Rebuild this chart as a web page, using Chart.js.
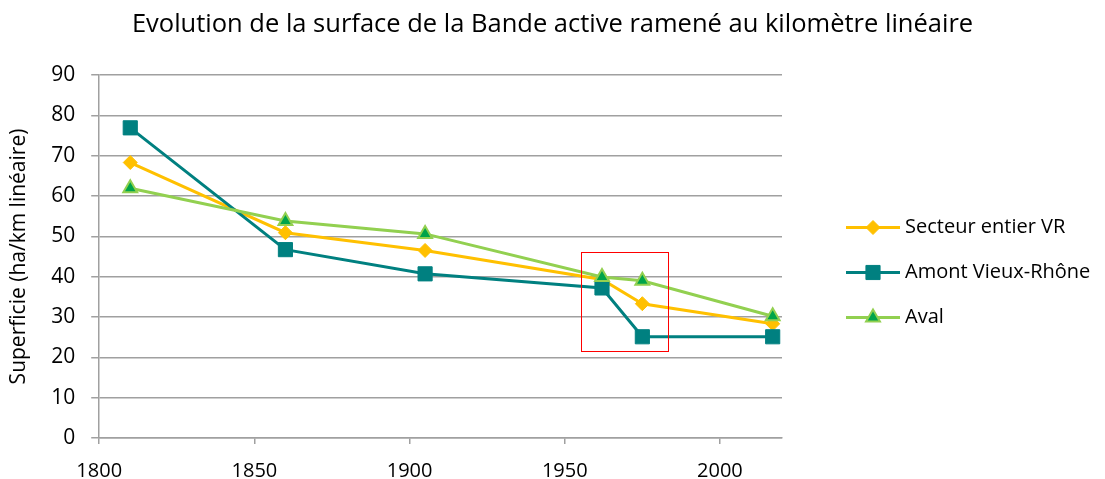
<!DOCTYPE html>
<html>
<head>
<meta charset="utf-8">
<script src="https://cdn.jsdelivr.net/npm/chart.js@4/dist/chart.umd.min.js"></script>
<style>
  body { margin: 0; background: #fff; }
  #wrap { width: 1105px; height: 479px; }
</style>
</head>
<body>
<div id="wrap"><canvas id="surfChart" width="1105" height="479"></canvas></div>
<script>
// Years of each survey
const years = [1810, 1860, 1905, 1962, 1975, 2017];

// Active band surface per linear km (ha/km)
const secteurEntier = [68.3, 50.9, 46.5, 39.3, 33.3, 28.3];
const amontVieuxRhone = [76.9, 46.7, 40.7, 37.2, 25.1, 25.1];
const aval = [61.9, 53.8, 50.6, 39.9, 39.0, 30.2];

const seriesNames = ['Secteur entier VR', 'Amont Vieux-Rhône', 'Aval'];
const chartTitle = 'Evolution de la surface de la Bande active ramené au kilomètre linéaire';

// Axis tick values
const xTicks = [1800, 1850, 1900, 1950, 2000];
const yTicks = [0, 10, 20, 30, 40, 50, 60, 70, 80, 90];

// Highlighted period box: [x1, x2, y1, y2]
const highlightBox = [1955.3, 1983.2, 21.6, 46.2];

const FONT = '"Open Sans", sans-serif';

function toPoints(values) {
    return values.map((v, i) => ({ x: years[i], y: v }));
}

// Title centred on the whole canvas (the legend space is kept in padding)
const centerTitlePlugin = {
    id: 'centerTitle',
    afterDraw(chart) {
        const { ctx, width } = chart;
        ctx.save();
        ctx.fillStyle = '#000';
        ctx.font = '25.5px ' + FONT;
        ctx.textAlign = 'center';
        ctx.textBaseline = 'middle';
        ctx.fillText(chartTitle, width / 2, 25);
        ctx.restore();
    }
};

// Draw the red box around the recent change, in data units
const highlightPlugin = {
    id: 'highlight',
    afterDatasetsDraw(chart) {
        const { ctx, scales } = chart;
        const x1 = scales.x.getPixelForValue(highlightBox[0]);
        const x2 = scales.x.getPixelForValue(highlightBox[1]);
        const y1 = scales.y.getPixelForValue(highlightBox[3]);
        const y2 = scales.y.getPixelForValue(highlightBox[2]);
        ctx.save();
        ctx.strokeStyle = '#ff0000';
        ctx.lineWidth = 1;
        ctx.strokeRect(Math.round(x1) + 0.5, Math.round(y1) + 0.5, Math.round(x2 - x1), Math.round(y2 - y1));
        ctx.restore();
    }
};

// Legend with line + marker samples, to the right of the plot
const lineLegendPlugin = {
    id: 'lineLegend',
    afterDraw(chart) {
        const { ctx, chartArea } = chart;
        const x0 = chartArea.right + 64;
        const midY = (chartArea.top + chartArea.bottom) / 2 + 16;
        ctx.save();
        chart.data.datasets.forEach((ds, i) => {
            const y = midY + (i - 1) * 45;
            ctx.strokeStyle = ds.borderColor;
            ctx.lineWidth = ds.borderWidth;
            ctx.beginPath();
            ctx.moveTo(x0, y);
            ctx.lineTo(x0 + 54, y);
            ctx.stroke();
            ctx.fillStyle = ds.pointBackgroundColor;
            ctx.strokeStyle = ds.pointBorderColor;
            ctx.lineWidth = ds.pointBorderWidth;
            Chart.helpers.drawPoint(ctx, {
                pointStyle: ds.pointStyle,
                radius: ds.pointRadius,
                rotation: 0,
                borderWidth: ds.pointBorderWidth
            }, x0 + 27, y);
            ctx.fillStyle = '#000';
            ctx.font = '20px ' + FONT;
            ctx.textBaseline = 'middle';
            ctx.fillText(ds.label, x0 + 59, y);
        });
        ctx.restore();
    }
};

const ctx = document.getElementById('surfChart');
new Chart(ctx, {
    type: 'line',
    data: {
        datasets: [{
            label: seriesNames[0],
            data: toPoints(secteurEntier),
            borderColor: '#ffc000',
            borderWidth: 3,
            pointStyle: 'rectRot',
            pointRadius: 7,
            pointBackgroundColor: '#ffc000',
            pointBorderColor: '#ffc000',
            pointBorderWidth: 1,
            order: 3
        }, {
            label: seriesNames[1],
            data: toPoints(amontVieuxRhone),
            borderColor: '#008080',
            borderWidth: 3,
            pointStyle: 'rect',
            pointRadius: 10,
            pointBackgroundColor: '#008080',
            pointBorderColor: '#008080',
            pointBorderWidth: 1,
            order: 2
        }, {
            label: seriesNames[2],
            data: toPoints(aval),
            borderColor: '#92d050',
            borderWidth: 3,
            pointStyle: 'triangle',
            pointRadius: 8,
            pointBackgroundColor: '#00a44a',
            pointBorderColor: '#92d050',
            pointBorderWidth: 2,
            order: 1
        }]
    },
    options: {
        responsive: false,
        animation: false,
        layout: { padding: { left: 6, right: 323, top: 75, bottom: -19 } },
        plugins: {
            legend: { display: false },
            tooltip: { enabled: false },
            title: { display: false }
        },
        scales: {
            x: {
                type: 'linear',
                min: 1800,
                max: 2020,
                afterBuildTicks(scale) {
                    scale.ticks = xTicks.map(v => ({ value: v }));
                },
                grid: {
                    display: true,
                    drawOnChartArea: false,
                    drawTicks: true,
                    tickLength: 6,
                    color: '#a0a0a0',
                    lineWidth: 1.5
                },
                border: { color: '#a0a0a0', width: 1.5 },
                ticks: {
                    color: '#000',
                    font: { family: FONT, size: 20, lineHeight: 1 },
                    padding: 17,
                    maxRotation: 0,
                    callback: v => String(v)
                }
            },
            y: {
                min: 0,
                max: 90,
                afterBuildTicks(scale) {
                    scale.ticks = yTicks.map(v => ({ value: v }));
                },
                grid: {
                    color: '#a0a0a0',
                    lineWidth: 1.5,
                    tickLength: 8
                },
                border: { color: '#a0a0a0', width: 1.5 },
                ticks: {
                    color: '#000',
                    font: { family: FONT, size: 21 },
                    padding: 16
                },
                title: {
                    display: true,
                    text: 'Superficie (ha/km linéaire)',
                    color: '#000',
                    font: { family: FONT, size: 21 },
                    padding: { top: 0, bottom: 4 }
                }
            }
        }
    },
    plugins: [highlightPlugin, lineLegendPlugin, centerTitlePlugin]
});
</script>
</body>
</html>
